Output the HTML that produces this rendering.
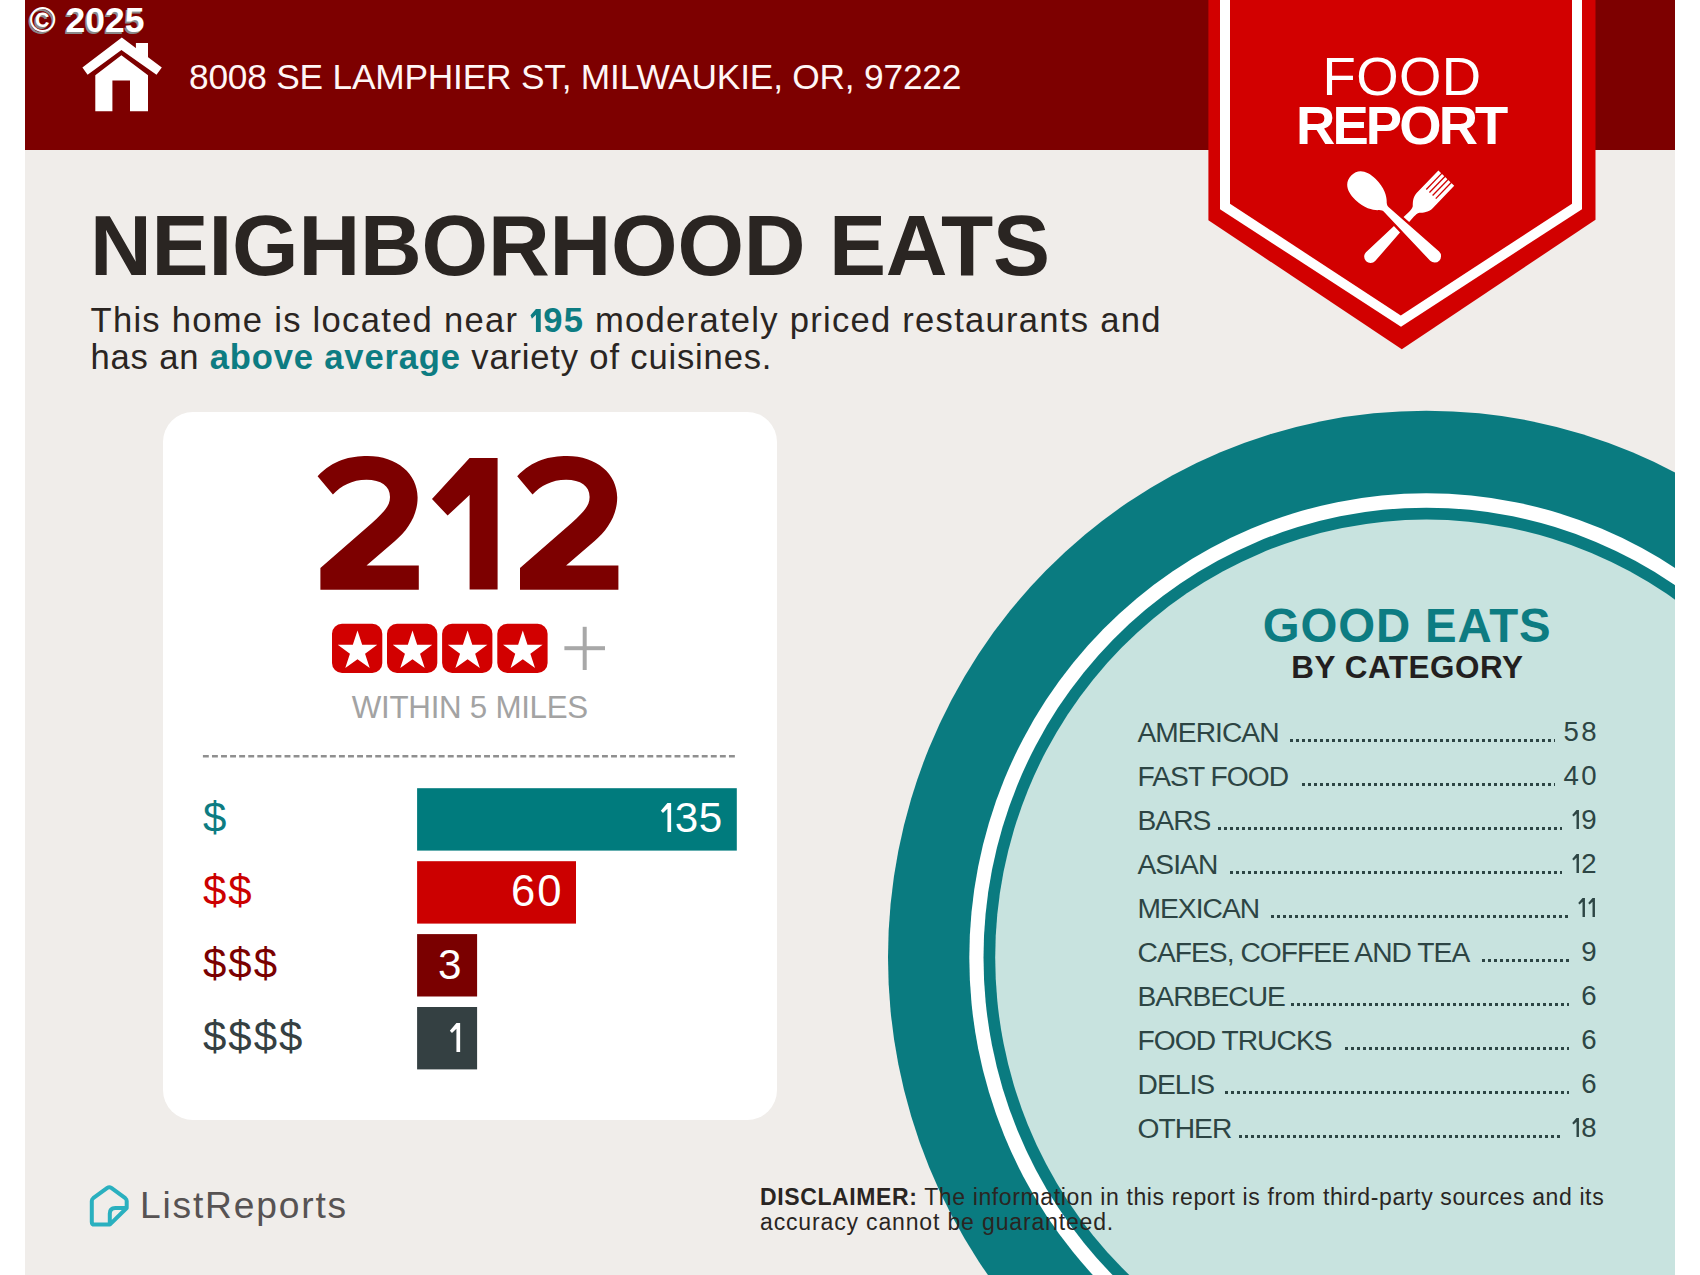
<!DOCTYPE html>
<html><head><meta charset="utf-8"><style>
html,body{margin:0;padding:0;background:#ffffff;}
body{width:1700px;height:1275px;position:relative;overflow:hidden;font-family:"Liberation Sans",sans-serif;}
.t{position:absolute;white-space:nowrap;}
b{font-weight:bold;}
</style></head><body>
<div style="position:absolute;left:25px;top:0;width:1650px;height:1275px;background:#f0edea;overflow:hidden"></div><svg width="1700" height="1275" style="position:absolute;left:0;top:0"><defs><clipPath id="pg"><rect x="25" y="150" width="1650" height="1125"/></clipPath></defs><g clip-path="url(#pg)"><ellipse cx="1426.4" cy="957.55" rx="538.4" ry="546.91" fill="#0a7b80"/><ellipse cx="1426.4" cy="957.55" rx="457.1" ry="464.32" fill="#ffffff"/><ellipse cx="1426.4" cy="957.55" rx="442.9" ry="449.90" fill="#0a7b80"/><ellipse cx="1426.4" cy="957.55" rx="431.2" ry="438.01" fill="#c8e3df"/></g><rect x="25" y="0" width="1650" height="150" fill="#7d0000"/><g fill="#ffffff"><path d="M121.8,37.4 L161.8,67.6 L156.5,74.7 L121.4,50 L87.6,74.7 L82.4,67.6 Z"/><path d="M135.9,43 L148,43 L148,58 L135.9,49 Z"/><path d="M95.3,75.3 L121.4,55.3 L148,75.3 L148,111.2 L130,111.2 L130,80.6 L112.4,80.6 L112.4,111.2 L95.3,111.2 Z"/></g><path d="M1208.4,0 L1595.5,0 L1595.5,219.7 L1401.8,349.3 L1208.4,220.2 Z" fill="#d20000"/><path d="M1220,0 L1582,0 L1582,209.2 L1401,326.7 L1220,209.2 Z" fill="#ffffff"/><path d="M1230,0 L1572,0 L1572,203.7 L1400.8,315.4 L1230,203.7 Z" fill="#d20000"/><g transform="translate(1446.3,178.2) rotate(134)"><path d="M0,-11 L31,-11 C37,-11 41,-7 43.5,-4.6 C45.5,-3.6 47,-3.3 50,-3.3 L109,-6.4 A6.4,6.4 0 0 1 109,6.4 L50,3.3 C47,3.3 45.5,3.6 43.5,4.6 C41,7 37,11 31,11 L0,11 Z" fill="#fff"/><rect x="-1" y="-7.25" width="23" height="1.3" fill="#d20000"/><rect x="-1" y="-2.85" width="23" height="1.3" fill="#d20000"/><rect x="-1" y="1.55" width="23" height="1.3" fill="#d20000"/><rect x="-1" y="5.95" width="23" height="1.3" fill="#d20000"/></g><g transform="translate(1351.2,175.6) rotate(44)"><path d="M49,-3.3 L116,-6.4 A6.4,6.4 0 0 1 116,6.4 L49,3.3 Z" fill="#d20000" stroke="#d20000" stroke-width="5"/><path d="M0,0 C0,-10 8,-14.6 20,-14.6 C33,-14.6 41,-9 44,-5.5 C46,-3.8 47,-3.3 49,-3.3 L116,-6.4 A6.4,6.4 0 0 1 116,6.4 L49,3.3 C47,3.3 46,3.8 44,5.5 C41,9 33,14.6 20,14.6 C8,14.6 0,10 0,0 Z" fill="#fff"/></g></svg><div style="position:absolute;left:162.5px;top:412px;width:614.5px;height:707.6px;background:#ffffff;border-radius:30px"></div><svg width="1700" height="1275" style="position:absolute;left:0;top:0"><rect x="332" y="623.8" width="50.3" height="49.2" rx="10" fill="#d20000"/><polygon points="357.50,630.40 362.17,644.77 377.28,644.77 365.06,653.66 369.73,668.03 357.50,659.15 345.27,668.03 349.94,653.66 337.72,644.77 352.83,644.77" fill="#fff"/><rect x="387" y="623.8" width="50.3" height="49.2" rx="10" fill="#d20000"/><polygon points="412.50,630.40 417.17,644.77 432.28,644.77 420.06,653.66 424.73,668.03 412.50,659.15 400.27,668.03 404.94,653.66 392.72,644.77 407.83,644.77" fill="#fff"/><rect x="442.1" y="623.8" width="50.3" height="49.2" rx="10" fill="#d20000"/><polygon points="467.60,630.40 472.27,644.77 487.38,644.77 475.16,653.66 479.83,668.03 467.60,659.15 455.37,668.03 460.04,653.66 447.82,644.77 462.93,644.77" fill="#fff"/><rect x="497.3" y="623.8" width="50.3" height="49.2" rx="10" fill="#d20000"/><polygon points="522.80,630.40 527.47,644.77 542.58,644.77 530.36,653.66 535.03,668.03 522.80,659.15 510.57,668.03 515.24,653.66 503.02,644.77 518.13,644.77" fill="#fff"/><rect x="564.4" y="646.2" width="40.6" height="4" fill="#a8a8a8"/><rect x="582.7" y="626.8" width="4" height="43.2" fill="#a8a8a8"/><line x1="202.9" y1="756.3" x2="737" y2="756.3" stroke="#8f8f8f" stroke-width="2.6" stroke-dasharray="5.9 3.17"/><rect x="417.1" y="788.2" width="319.70" height="62.4" fill="#007b7d"/><rect x="417.1" y="861.2" width="158.90" height="62.4" fill="#cc0000"/><rect x="417.1" y="934.1" width="60.00" height="62.4" fill="#7a0000"/><rect x="417.1" y="1007" width="60.00" height="62.4" fill="#344042"/><path d="M109.8,1213.5 L109.8,1224.6 L94.5,1224.6 Q91.8,1224.6 91.8,1221.9 L91.8,1201 Q91.8,1199.3 93.2,1198.2 L107.3,1187.9 Q109.3,1186.5 111.3,1187.9 L125.3,1198.2 Q126.7,1199.3 126.7,1201 L126.7,1208 L109.8,1224.6 M109.8,1213.5 Q109.8,1208 115.3,1208 L126.7,1208" fill="none" stroke="#2ab0bf" stroke-width="4" stroke-linejoin="round"/></svg><div class="t" style="left:29.50px;top:3.45px;font-size:35.50px;line-height:35.50px;font-weight:bold;color:#ffffff;letter-spacing:0.00px;text-shadow:-1.5px 1.5px 0 #8a8a8a;">&copy; 2025</div>
<div class="t" style="left:189.00px;top:59.12px;font-size:35.30px;line-height:35.30px;color:#fff6f6;letter-spacing:-0.21px;">8008 SE LAMPHIER ST, MILWAUKIE, OR, 97222</div>
<div class="t" style="left:401.80px;width:2000px;text-align:center;text-indent:0.44px;top:49.67px;font-size:54.50px;line-height:54.50px;color:#ffffff;letter-spacing:0.44px;">FOOD</div>
<div class="t" style="left:402.20px;width:2000px;text-align:center;text-indent:-2.90px;top:99.15px;font-size:54.40px;line-height:54.40px;font-weight:bold;color:#ffffff;letter-spacing:-2.90px;">REPORT</div>
<div class="t" style="left:90.00px;top:202.62px;font-size:85.50px;line-height:85.50px;font-weight:bold;color:#2a2522;letter-spacing:-0.16px;">NEIGHBORHOOD EATS</div>
<div class="t" style="left:90.50px;top:303.31px;font-size:34.60px;line-height:34.60px;color:#2a2522;letter-spacing:1.27px;">This home is located near <b style="color:#0d7c82"><svg viewBox="0 0 0.407 0.688" style="display:inline-block;width:14.08px;height:23.80px;vertical-align:baseline;margin-right:0"><polygon points="0.2,0 0.34,0 0.34,0.688 0.2,0.688 0.2,0.167 0.084,0.27999999999999997 0.044,0.182" fill="#0d7c82"/></svg>95</b> moderately priced restaurants and</div>
<div class="t" style="left:90.50px;top:339.81px;font-size:34.60px;line-height:34.60px;color:#2a2522;letter-spacing:0.83px;">has an <b style="color:#0d7c82">above average</b> variety of cuisines.</div>
<svg width="1700" height="1275" style="position:absolute;left:0;top:0"><g fill="#7d0000"><path d="M317.6,476.2 C333,460 350,456 367.6,456 C397,456 417.6,474 417.6,497.4 C417.6,515 408,530 395,541 L366.5,565.6 L418.8,565.6 L418.8,589.8 L320.4,589.8 L320.4,568 L372,523 C384,512 390,506 390,497 C390,486 381,479.8 366.5,479.8 C352,479.8 341,486 332.9,494.5 Z"/><path d="M469.6,458 L497.6,458 L497.6,589.6 L469.6,589.6 L469.6,495 L447.6,515.6 L432,499 Z"/><path transform="translate(199.6,0)" d="M317.6,476.2 C333,460 350,456 367.6,456 C397,456 417.6,474 417.6,497.4 C417.6,515 408,530 395,541 L366.5,565.6 L418.8,565.6 L418.8,589.8 L320.4,589.8 L320.4,568 L372,523 C384,512 390,506 390,497 C390,486 381,479.8 366.5,479.8 C352,479.8 341,486 332.9,494.5 Z"/></g></svg><div class="t" style="left:-530.00px;width:2000px;text-align:center;text-indent:-0.27px;top:691.80px;font-size:31.30px;line-height:31.30px;color:#a3a3a3;letter-spacing:-0.27px;">WITHIN 5 MILES</div>
<div class="t" style="left:203.00px;top:797.45px;font-size:42.00px;line-height:42.00px;color:#0d7c82;letter-spacing:2.00px;">$</div>
<div class="t" style="left:203.00px;top:870.45px;font-size:42.00px;line-height:42.00px;color:#cc0000;letter-spacing:2.00px;">$$</div>
<div class="t" style="left:203.00px;top:943.45px;font-size:42.00px;line-height:42.00px;color:#7a0000;letter-spacing:2.00px;">$$$</div>
<div class="t" style="left:203.00px;top:1016.45px;font-size:42.00px;line-height:42.00px;color:#354042;letter-spacing:2.00px;">$$$$</div>
<div class="t" style="left:-1277.80px;width:2000px;text-align:right;top:796.78px;font-size:42.20px;line-height:42.20px;color:#ffffff;letter-spacing:0.00px;"><svg viewBox="0 0 0.355 0.688" style="display:inline-block;width:14.98px;height:29.03px;vertical-align:baseline;margin-right:0"><polygon points="0.2,0 0.28800000000000003,0 0.28800000000000003,0.688 0.2,0.688 0.2,0.137 0.094,0.24 0.044,0.182" fill="#ffffff"/></svg><span style="display:inline-block;width:0.50px"></span><span style="letter-spacing:0.50px">3</span><span style="letter-spacing:0.00px">5</span></div>
<div class="t" style="left:-1438.50px;width:2000px;text-align:right;top:870.09px;font-size:43.60px;line-height:43.60px;color:#ffffff;letter-spacing:0.00px;"><span style="letter-spacing:2.00px">6</span><span style="letter-spacing:0.00px">0</span></div>
<div class="t" style="left:-1538.50px;width:2000px;text-align:right;top:943.78px;font-size:42.20px;line-height:42.20px;color:#ffffff;letter-spacing:0.00px;"><span style="letter-spacing:0.00px">3</span></div>
<div class="t" style="left:-1537.00px;width:2000px;text-align:right;top:1016.58px;font-size:42.20px;line-height:42.20px;color:#ffffff;letter-spacing:0.00px;"><svg viewBox="0 0 0.355 0.688" style="display:inline-block;width:14.98px;height:29.03px;vertical-align:baseline;margin-right:0"><polygon points="0.2,0 0.28800000000000003,0 0.28800000000000003,0.688 0.2,0.688 0.2,0.137 0.094,0.24 0.044,0.182" fill="#ffffff"/></svg></div>
<div class="t" style="left:406.70px;width:2000px;text-align:center;text-indent:0.88px;top:601.58px;font-size:47.40px;line-height:47.40px;font-weight:bold;color:#0d7c82;letter-spacing:0.88px;">GOOD EATS</div>
<div class="t" style="left:407.20px;width:2000px;text-align:center;text-indent:0.56px;top:651.92px;font-size:31.40px;line-height:31.40px;font-weight:bold;color:#231f20;letter-spacing:0.56px;">BY CATEGORY</div>
<div class="t" style="left:1137.50px;top:717.93px;font-size:28.20px;line-height:28.20px;color:#2d4544;letter-spacing:-0.96px;">AMERICAN</div>
<div class="t" style="left:-403.50px;width:2000px;text-align:right;top:718.44px;font-size:27.60px;line-height:27.60px;color:#2d4544;letter-spacing:0.00px;"><span style="letter-spacing:2.30px">5</span><span style="letter-spacing:0.00px">8</span></div>
<div style="position:absolute;left:1290px;top:739px;width:265px;height:3px;background:linear-gradient(to right,#2d4544 0 3px,transparent 3px 6px);background-size:6px 3px"></div>
<div class="t" style="left:1137.50px;top:761.93px;font-size:28.20px;line-height:28.20px;color:#2d4544;letter-spacing:-0.96px;">FAST FOOD</div>
<div class="t" style="left:-403.50px;width:2000px;text-align:right;top:762.44px;font-size:27.60px;line-height:27.60px;color:#2d4544;letter-spacing:0.00px;"><span style="letter-spacing:2.30px">4</span><span style="letter-spacing:0.00px">0</span></div>
<div style="position:absolute;left:1302px;top:783px;width:253px;height:3px;background:linear-gradient(to right,#2d4544 0 3px,transparent 3px 6px);background-size:6px 3px"></div>
<div class="t" style="left:1137.50px;top:805.93px;font-size:28.20px;line-height:28.20px;color:#2d4544;letter-spacing:-0.96px;">BARS</div>
<div class="t" style="left:-403.50px;width:2000px;text-align:right;top:806.44px;font-size:27.60px;line-height:27.60px;color:#2d4544;letter-spacing:0.00px;"><svg viewBox="0 0 0.355 0.688" style="display:inline-block;width:9.80px;height:18.99px;vertical-align:baseline;margin-right:0"><polygon points="0.2,0 0.28800000000000003,0 0.28800000000000003,0.688 0.2,0.688 0.2,0.137 0.094,0.24 0.044,0.182" fill="#2d4544"/></svg><span style="letter-spacing:0.00px">9</span></div>
<div style="position:absolute;left:1218px;top:827px;width:344px;height:3px;background:linear-gradient(to right,#2d4544 0 3px,transparent 3px 6px);background-size:6px 3px"></div>
<div class="t" style="left:1137.50px;top:849.93px;font-size:28.20px;line-height:28.20px;color:#2d4544;letter-spacing:-0.96px;">ASIAN</div>
<div class="t" style="left:-403.50px;width:2000px;text-align:right;top:850.44px;font-size:27.60px;line-height:27.60px;color:#2d4544;letter-spacing:0.00px;"><svg viewBox="0 0 0.355 0.688" style="display:inline-block;width:9.80px;height:18.99px;vertical-align:baseline;margin-right:0"><polygon points="0.2,0 0.28800000000000003,0 0.28800000000000003,0.688 0.2,0.688 0.2,0.137 0.094,0.24 0.044,0.182" fill="#2d4544"/></svg><span style="letter-spacing:0.00px">2</span></div>
<div style="position:absolute;left:1230px;top:871px;width:332px;height:3px;background:linear-gradient(to right,#2d4544 0 3px,transparent 3px 6px);background-size:6px 3px"></div>
<div class="t" style="left:1137.50px;top:893.93px;font-size:28.20px;line-height:28.20px;color:#2d4544;letter-spacing:-0.96px;">MEXICAN</div>
<div class="t" style="left:-403.50px;width:2000px;text-align:right;top:894.44px;font-size:27.60px;line-height:27.60px;color:#2d4544;letter-spacing:0.00px;"><svg viewBox="0 0 0.355 0.688" style="display:inline-block;width:9.80px;height:18.99px;vertical-align:baseline;margin-right:0"><polygon points="0.2,0 0.28800000000000003,0 0.28800000000000003,0.688 0.2,0.688 0.2,0.137 0.094,0.24 0.044,0.182" fill="#2d4544"/></svg><svg viewBox="0 0 0.355 0.688" style="display:inline-block;width:9.80px;height:18.99px;vertical-align:baseline;margin-right:0"><polygon points="0.2,0 0.28800000000000003,0 0.28800000000000003,0.688 0.2,0.688 0.2,0.137 0.094,0.24 0.044,0.182" fill="#2d4544"/></svg></div>
<div style="position:absolute;left:1271px;top:915px;width:298px;height:3px;background:linear-gradient(to right,#2d4544 0 3px,transparent 3px 6px);background-size:6px 3px"></div>
<div class="t" style="left:1137.50px;top:937.93px;font-size:28.20px;line-height:28.20px;color:#2d4544;letter-spacing:-0.96px;">CAFES, COFFEE AND TEA</div>
<div class="t" style="left:-403.50px;width:2000px;text-align:right;top:938.44px;font-size:27.60px;line-height:27.60px;color:#2d4544;letter-spacing:0.00px;"><span style="letter-spacing:0.00px">9</span></div>
<div style="position:absolute;left:1482px;top:959px;width:87px;height:3px;background:linear-gradient(to right,#2d4544 0 3px,transparent 3px 6px);background-size:6px 3px"></div>
<div class="t" style="left:1137.50px;top:981.93px;font-size:28.20px;line-height:28.20px;color:#2d4544;letter-spacing:-0.96px;">BARBECUE</div>
<div class="t" style="left:-403.50px;width:2000px;text-align:right;top:982.44px;font-size:27.60px;line-height:27.60px;color:#2d4544;letter-spacing:0.00px;"><span style="letter-spacing:0.00px">6</span></div>
<div style="position:absolute;left:1291px;top:1003px;width:278px;height:3px;background:linear-gradient(to right,#2d4544 0 3px,transparent 3px 6px);background-size:6px 3px"></div>
<div class="t" style="left:1137.50px;top:1025.93px;font-size:28.20px;line-height:28.20px;color:#2d4544;letter-spacing:-0.96px;">FOOD TRUCKS</div>
<div class="t" style="left:-403.50px;width:2000px;text-align:right;top:1026.44px;font-size:27.60px;line-height:27.60px;color:#2d4544;letter-spacing:0.00px;"><span style="letter-spacing:0.00px">6</span></div>
<div style="position:absolute;left:1345px;top:1047px;width:224px;height:3px;background:linear-gradient(to right,#2d4544 0 3px,transparent 3px 6px);background-size:6px 3px"></div>
<div class="t" style="left:1137.50px;top:1069.93px;font-size:28.20px;line-height:28.20px;color:#2d4544;letter-spacing:-0.96px;">DELIS</div>
<div class="t" style="left:-403.50px;width:2000px;text-align:right;top:1070.44px;font-size:27.60px;line-height:27.60px;color:#2d4544;letter-spacing:0.00px;"><span style="letter-spacing:0.00px">6</span></div>
<div style="position:absolute;left:1225px;top:1091px;width:344px;height:3px;background:linear-gradient(to right,#2d4544 0 3px,transparent 3px 6px);background-size:6px 3px"></div>
<div class="t" style="left:1137.50px;top:1113.93px;font-size:28.20px;line-height:28.20px;color:#2d4544;letter-spacing:-0.96px;">OTHER</div>
<div class="t" style="left:-403.50px;width:2000px;text-align:right;top:1114.44px;font-size:27.60px;line-height:27.60px;color:#2d4544;letter-spacing:0.00px;"><svg viewBox="0 0 0.355 0.688" style="display:inline-block;width:9.80px;height:18.99px;vertical-align:baseline;margin-right:0"><polygon points="0.2,0 0.28800000000000003,0 0.28800000000000003,0.688 0.2,0.688 0.2,0.137 0.094,0.24 0.044,0.182" fill="#2d4544"/></svg><span style="letter-spacing:0.00px">8</span></div>
<div style="position:absolute;left:1239px;top:1135px;width:323px;height:3px;background:linear-gradient(to right,#2d4544 0 3px,transparent 3px 6px);background-size:6px 3px"></div>
<div class="t" style="left:140.00px;top:1187.11px;font-size:37.20px;line-height:37.20px;color:#575353;letter-spacing:1.81px;">ListReports</div>
<div class="t" style="left:760.00px;top:1186.03px;font-size:23.00px;line-height:23.00px;color:#2a2522;letter-spacing:0.62px;"><b>DISCLAIMER:</b> The information in this report is from third-party sources and its</div>
<div class="t" style="left:760.00px;top:1210.53px;font-size:23.00px;line-height:23.00px;color:#2a2522;letter-spacing:0.85px;">accuracy cannot be guaranteed.</div>
</body></html>
